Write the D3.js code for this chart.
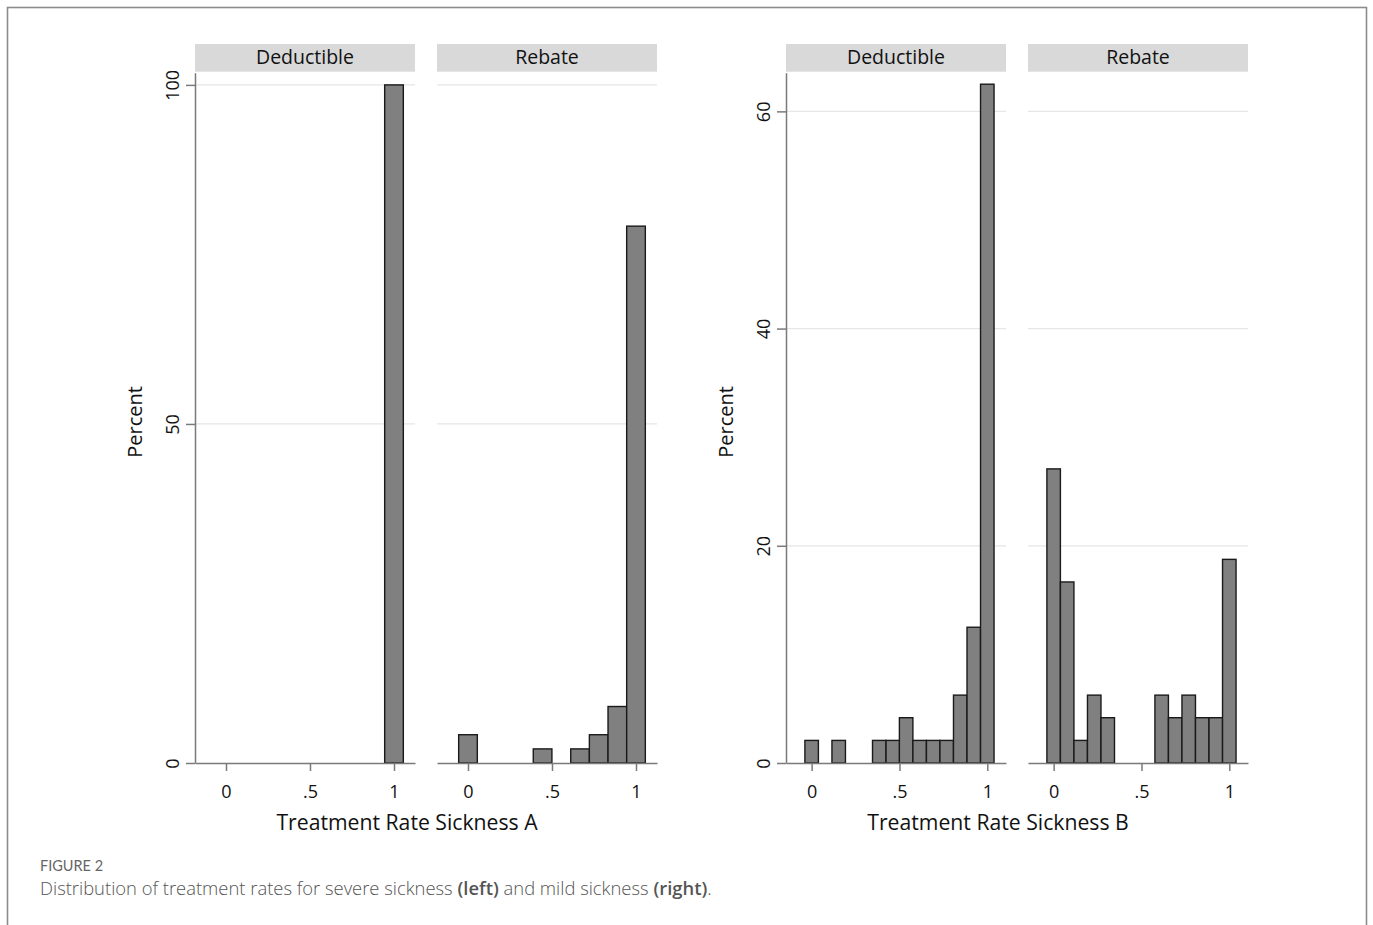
<!DOCTYPE html>
<html>
<head>
<meta charset="utf-8">
<script src="https://cdn.jsdelivr.net/npm/d3@7"></script>
<style>
  body { margin: 0; background: #fff; }
  .chart-text { font-family: "Open Sans", sans-serif; }
  .caption { font-family: Lato, sans-serif; }
  .caption-body { font-family: "Open Sans", sans-serif; }
</style>
</head>
<body>
<svg id="chart" width="1373" height="925"></svg>
<script>
// panel titles
const panelNames = ['Deductible', 'Rebate'];

// severe sickness (A): bin centres and percent
const sevDedX = [1];
const sevDedPct = [100];
const sevRebX = [0, 0.444, 0.667, 0.778, 0.889, 1];
const sevRebPct = [4.17, 2.08, 2.08, 4.17, 8.33, 79.17];

// mild sickness (B)
const mildDedX = [0, 0.154, 0.385, 0.462, 0.538, 0.615, 0.692, 0.769, 0.846, 0.923, 1];
const mildDedPct = [2.08, 2.08, 2.08, 2.08, 4.17, 2.08, 2.08, 2.08, 6.25, 12.5, 62.5];
const mildRebX = [0, 0.077, 0.154, 0.231, 0.308, 0.615, 0.692, 0.769, 0.846, 0.923, 1];
const mildRebPct = [27.08, 16.67, 2.08, 6.25, 4.17, 6.25, 4.17, 6.25, 4.17, 4.17, 18.75];

// tick labels
const xTicks = [0, 0.5, 1];
const xTickLabels = ['0', '.5', '1'];
const yTicksA = [0, 50, 100];
const yTicksB = [0, 20, 40, 60];

const svg = d3.select('#chart');

// outer frame
svg.append('rect')
    .attr('x', 7.5).attr('y', 7.5)
    .attr('width', 1359).attr('height', 1000)
    .attr('fill', 'none')
    .attr('stroke', '#8c8c8c')
    .attr('stroke-width', 1.6);

const plotTop = 72.7, base = 763, panelW = 220, gap = 22;

function drawChart(cfg) {
    const g = svg.append('g').attr('class', 'chart-text');

    const y = d3.scaleLinear().domain([0, cfg.yMax]).range([base, plotTop]);

    cfg.series.forEach((s, i) => {
        const x0 = cfg.left + i * (panelW + gap);
        const x = d3.scaleLinear().domain(cfg.xDomain).range([x0, x0 + panelW]);
        const pg = g.append('g');

        // strip
        pg.append('rect')
            .attr('x', x0).attr('y', 44)
            .attr('width', panelW).attr('height', 27.7)
            .attr('fill', '#d9d9d9');
        pg.append('text')
            .attr('x', x0 + panelW / 2).attr('y', 64)
            .attr('text-anchor', 'middle')
            .attr('font-size', 19.5)
            .attr('fill', '#111')
            .text(panelNames[i]);

        // grid
        pg.selectAll('.grid')
            .data(cfg.yTicks.filter(t => t > 0))
            .enter()
            .append('line')
            .attr('x1', x0).attr('x2', x0 + panelW)
            .attr('y1', d => y(d)).attr('y2', d => y(d))
            .attr('stroke', '#e6e6e6')
            .attr('stroke-width', 1.2);

        // bars
        const bins = s.x.map((v, k) => ({ x: v, pct: s.pct[k] }));
        pg.selectAll('.bar')
            .data(bins)
            .enter()
            .append('rect')
            .attr('x', d => x(d.x - cfg.bw / 2))
            .attr('width', d => x(d.x + cfg.bw / 2) - x(d.x - cfg.bw / 2))
            .attr('y', d => y(d.pct))
            .attr('height', d => base - y(d.pct))
            .attr('fill', '#808080')
            .attr('stroke', '#1a1a1a')
            .attr('stroke-width', 1.4);

        // x axis
        const xAxis = d3.axisBottom(x)
            .tickValues(xTicks)
            .tickFormat((d, k) => xTickLabels[k])
            .tickSize(8)
            .tickSizeOuter(0);
        const ax = pg.append('g')
            .attr('transform', `translate(0,${base})`)
            .call(xAxis);
        ax.select('.domain').attr('stroke', '#7a7a7a').attr('stroke-width', 1.5);
        ax.selectAll('.tick line').attr('stroke', '#7a7a7a').attr('stroke-width', 1.5);
        ax.selectAll('.tick text')
            .attr('y', 35).attr('dy', 0)
            .attr('font-size', 18)
            .attr('font-family', '"Open Sans", sans-serif')
            .attr('fill', '#111');
    });

    // y axis
    const yAxis = d3.axisLeft(y)
        .tickValues(cfg.yTicks)
        .tickSize(9)
        .tickSizeOuter(0);
    const ay = g.append('g')
        .attr('transform', `translate(${cfg.left},0)`)
        .call(yAxis);
    ay.select('.domain').attr('stroke', '#7a7a7a').attr('stroke-width', 1.5);
    ay.selectAll('.tick line').attr('stroke', '#7a7a7a').attr('stroke-width', 1.5);
    ay.selectAll('.tick text')
        .attr('x', 0).attr('dy', 0)
        .attr('transform', 'translate(-16,0) rotate(-90)')
        .attr('text-anchor', 'middle')
        .attr('font-size', 18)
        .attr('font-family', '"Open Sans", sans-serif')
        .attr('fill', '#111');

    // y title
    g.append('text')
        .attr('transform', `translate(${cfg.left - 53},${(plotTop + base) / 2 + 4}) rotate(-90)`)
        .attr('text-anchor', 'middle')
        .attr('font-size', 20)
        .attr('fill', '#111')
        .text('Percent');

    // x title
    const right = cfg.left + 2 * panelW + gap;
    g.append('text')
        .attr('x', (cfg.left + right) / 2 - 19)
        .attr('y', 830)
        .attr('text-anchor', 'middle')
        .attr('font-size', 21.2)
        .attr('fill', '#111')
        .text(cfg.xTitle);
}

drawChart({
    left: 195,
    yMax: 101.8,
    yTicks: yTicksA,
    xDomain: [-0.1845, 1.125],
    bw: 0.111,
    xTitle: 'Treatment Rate Sickness A',
    series: [{ x: sevDedX, pct: sevDedPct }, { x: sevRebX, pct: sevRebPct }]
});

drawChart({
    left: 786,
    yMax: 63.56,
    yTicks: yTicksB,
    xDomain: [-0.146, 1.1065],
    bw: 0.0769,
    xTitle: 'Treatment Rate Sickness B',
    series: [{ x: mildDedX, pct: mildDedPct }, { x: mildRebX, pct: mildRebPct }]
});

// caption
svg.append('text')
    .attr('class', 'caption')
    .attr('x', 40).attr('y', 871)
    .attr('font-size', 14.5)
    .attr('fill', '#666')
    .text('FIGURE 2');

const cap = svg.append('text')
    .attr('class', 'caption-body')
    .attr('x', 40).attr('y', 895)
    .attr('font-size', 18.4)
    .attr('font-weight', 300)
    .attr('fill', '#555');
cap.append('tspan').text('Distribution of treatment rates for severe sickness ');
cap.append('tspan').attr('font-weight', 600).text('(left)');
cap.append('tspan').text(' and mild sickness ');
cap.append('tspan').attr('font-weight', 600).text('(right)');
cap.append('tspan').text('.');
</script>
</body>
</html>
